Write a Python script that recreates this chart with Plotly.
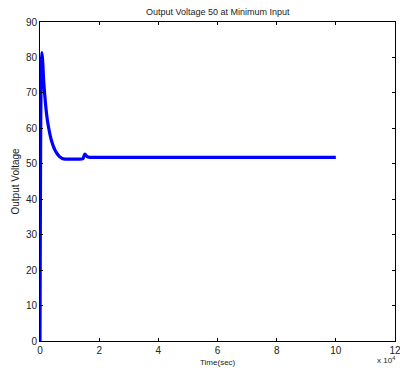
import plotly.graph_objects as go

# Data
time_s = [0, 100, 250, 450, 600, 800, 1000, 1200, 1450, 1700, 2000, 2500, 3000, 3500,
          4000, 4500, 5000, 5500, 6000, 6500, 7000, 7500, 8000, 9000, 11000, 13000,
          14500, 15000, 15300, 15600, 16200, 17000,
          20000, 40000, 60000, 80000, 100000]
voltage = [0, 30, 62, 78, 81.4, 80, 77.5, 74, 71, 68.5, 65.8, 62.3, 59.8, 57.8,
           56.2, 55, 54, 53.2, 52.6, 52.1, 51.8, 51.5, 51.4, 51.3, 51.3, 51.3,
           51.4, 52.5, 52.7, 52.3, 51.9, 51.8,
           51.8, 51.8, 51.8, 51.8, 51.8]

x_tickvals = [0, 20000, 40000, 60000, 80000, 100000, 120000]
x_ticktext = ["0", "2", "4", "6", "8", "10", "12"]
y_tickvals = [0, 10, 20, 30, 40, 50, 60, 70, 80, 90]

title_text = "Output Voltage 50 at Minimum Input"
x_label = "Time(sec)"
y_label = "Output Voltage"

FONT = "Liberation Sans, Arial, sans-serif"

fig = go.Figure()
fig.add_trace(go.Scatter(x=time_s, y=voltage, mode="lines",
                         line=dict(color="#0000ff", width=3.2, shape="spline", smoothing=0.6),
                         showlegend=False))

axis_common = dict(showgrid=False, zeroline=False, showline=True, linecolor="black",
                   linewidth=1, mirror="ticks", ticks="inside", ticklen=3,
                   tickcolor="black", automargin=False, ticklabeloverflow="allow",
                   tickfont=dict(family=FONT, size=10, color="#222"))

fig.update_layout(
    width=400, height=372,
    margin=dict(l=40, r=5, t=22, b=31),
    paper_bgcolor="white", plot_bgcolor="white",
    xaxis=dict(range=[0, 120000], tickvals=x_tickvals, ticktext=x_ticktext, **axis_common),
    yaxis=dict(range=[0, 90], tickvals=y_tickvals, **axis_common),
    annotations=[
        dict(text=title_text, x=0.5, y=1, xref="paper", yref="paper", xanchor="center",
             yanchor="bottom", yshift=3, showarrow=False,
             font=dict(family=FONT, size=9, color="#222")),
        dict(text=y_label, x=0, y=0.5, xref="paper", yref="paper", xanchor="center",
             yanchor="middle", xshift=-25, textangle=-90, showarrow=False,
             font=dict(family=FONT, size=10, color="#222")),
        dict(text=x_label, x=0.5, y=0, xref="paper", yref="paper", xanchor="center",
             yanchor="top", yshift=-15, showarrow=False,
             font=dict(family=FONT, size=8, color="#222")),
        dict(text="x 10<sup>4</sup>", x=1, y=0, xref="paper", yref="paper", xanchor="right",
             yanchor="top", yshift=-12, xshift=2, showarrow=False,
             font=dict(family=FONT, size=8, color="#222")),
    ],
)

fig.write_html("out.html", config={"displayModeBar": False},
               post_script="document.body.style.margin='0';document.body.style.overflow='hidden';")
